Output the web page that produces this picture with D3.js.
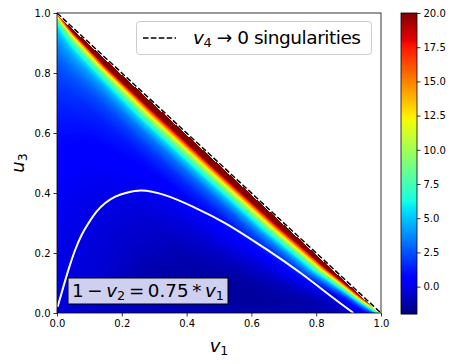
<!DOCTYPE html>
<html lang="en">
<head>
<meta charset="UTF-8">
<title>v4 singularities</title>
<script src="https://cdn.jsdelivr.net/npm/d3@7/dist/d3.min.js"></script>
<style>
    body { margin: 0; background: #fff; }
    svg text { font-family: "DejaVu Sans", sans-serif; fill: #000; }
    .tick text { font-size: 10px; }
    .tick line { stroke: #000; stroke-width: 0.8; }
    .domain { stroke: none; }
</style>
</head>
<body>
<script>
    // picture size
    const width = 458;
    const height = 364;

    // colour range of the colorbar
    const zMin = -2, zMax = 20;
    const cbTicks = [0, 2.5, 5, 7.5, 10, 12.5, 15, 17.5, 20];
    const axisTicks = [0, 0.2, 0.4, 0.6, 0.8, 1.0];

    // field: one row per position along the diagonal
    // s = v1 / (v1 + u3), columns = distance v4 = 1 - v1 - u3
    const sRows = [0, 0.05, 0.15, 0.3, 0.5, 0.7, 0.85, 0.95, 1];
    const v4Cols = [0, 0.01, 0.02, 0.03, 0.045, 0.06, 0.08, 0.1, 0.13, 0.17, 0.22, 0.3, 0.4, 0.55, 0.75, 1.0];
    const rowS000 = [20, 12, 9, 7, 5.5, 4.8, 4.2, 3.7, 3.2, 2.6, 2.1, 1.5, 1.0, 0.5, 0.1, -0.1];
    const rowS005 = [30, 24, 17, 12, 8.5, 6.5, 5, 4.2, 3.3, 2.5, 1.9, 1.3, 0.8, 0.3, 0, -0.1];
    const rowS015 = [30, 27, 23, 18.5, 12.5, 8.8, 6, 4.4, 3.2, 2.2, 1.5, 0.9, 0.4, 0.1, -0.1, -0.2];
    const rowS030 = [30, 28, 24, 20, 15, 11, 7.5, 5.2, 3.3, 2.0, 1.1, 0.5, 0.1, -0.2, -0.2, -0.2];
    const rowS050 = [30, 28, 24, 20, 15, 11, 7.3, 5.0, 3.0, 1.6, 0.7, 0, -0.5, -0.6, -0.4, -0.2];
    const rowS070 = [30, 27, 23, 19, 14, 10, 6.5, 4.2, 2.3, 1.0, 0.2, -0.6, -1.1, -1.2, -0.9, -0.3];
    const rowS085 = [30, 25, 20, 15.5, 10.5, 7, 4.2, 2.5, 1.0, 0, -0.7, -1.3, -1.5, -1.3, -0.9, -0.3];
    const rowS095 = [25, 18, 12.5, 7.5, 3.5, 1.5, 0.3, -0.3, -0.8, -1.1, -1.3, -1.4, -1.4, -1.2, -0.8, -0.3];
    const rowS100 = [15, 8, 4, 2, 0.8, 0.2, -0.2, -0.5, -0.8, -1.0, -1.1, -1.1, -1.0, -0.8, -0.5, -0.3];
    const field = [rowS000, rowS005, rowS015, rowS030, rowS050, rowS070, rowS085, rowS095, rowS100];

    // white curve 1 - v2 = 0.75 * v1
    const curveV1 = [0.002, 0.014, 0.035, 0.056, 0.076, 0.097, 0.122, 0.148, 0.18, 0.215, 0.261, 0.333, 0.43, 0.52, 0.647, 0.75, 0.853, 0.915];
    const curveU3 = [0.021, 0.066, 0.143, 0.21, 0.26, 0.299, 0.338, 0.366, 0.388, 0.401, 0.408, 0.393, 0.349, 0.299, 0.212, 0.135, 0.05, 0.0];

    // plot area
    const plot = { left: 57, top: 13, right: 381, bottom: 313 };
    const cb = { left: 401, right: 417, top: 13, bottom: 314 };

    const x = d3.scaleLinear().domain([0, 1]).range([plot.left, plot.right]);
    const y = d3.scaleLinear().domain([0, 1]).range([plot.bottom, plot.top]);
    const cbY = d3.scaleLinear().domain([zMin, zMax]).range([cb.bottom, cb.top]);

    // matplotlib jet as piecewise linear channels
    const jetR = d3.scaleLinear().domain([0, 0.35, 0.66, 0.89, 1]).range([0, 0, 1, 1, 0.5]).clamp(true);
    const jetG = d3.scaleLinear().domain([0, 0.125, 0.375, 0.64, 0.91, 1]).range([0, 0, 1, 1, 0, 0]).clamp(true);
    const jetB = d3.scaleLinear().domain([0, 0.11, 0.34, 0.65, 1]).range([0.5, 1, 1, 0, 0]).clamp(true);
    const norm = d3.scaleLinear().domain([zMin, zMax]).range([0, 1]).clamp(true);
    function jet(v) {
        const t = norm(v);
        return [jetR(t) * 255, jetG(t) * 255, jetB(t) * 255];
    }

    // bilinear lookup in the table
    function locate(arr, v) {
        let i = d3.bisectRight(arr, v) - 1;
        i = Math.max(0, Math.min(arr.length - 2, i));
        const f = Math.max(0, Math.min(1, (v - arr[i]) / (arr[i + 1] - arr[i])));
        return [i, f];
    }
    function lookup(s, v4) {
        const [i, fi] = locate(sRows, s);
        const [j, fj] = locate(v4Cols, v4);
        const a = field[i][j] * (1 - fj) + field[i][j + 1] * fj;
        const b = field[i + 1][j] * (1 - fj) + field[i + 1][j + 1] * fj;
        return a * (1 - fi) + b * fi;
    }

    let svg = d3.select('body')
        .append('svg')
        .attr('width', width)
        .attr('height', height);

    // heat map image
    const pw = plot.right - plot.left;
    const ph = plot.bottom - plot.top;
    const canvas = document.createElement('canvas');
    canvas.width = pw;
    canvas.height = ph;
    const ctx = canvas.getContext('2d');
    const img = ctx.createImageData(pw, ph);
    for (let j = 0; j < ph; j++) {
        for (let i = 0; i < pw; i++) {
            const v1 = x.invert(plot.left + i + 0.5);
            const u3 = y.invert(plot.top + j + 0.5);
            const v4 = 1 - v1 - u3;
            const k = (j * pw + i) * 4;
            if (v4 < 0.006) {
                img.data[k + 3] = 0;
                continue;
            }
            const s = v1 / (v1 + u3);
            const c = jet(lookup(s, v4));
            img.data[k] = c[0];
            img.data[k + 1] = c[1];
            img.data[k + 2] = c[2];
            img.data[k + 3] = 255;
        }
    }
    ctx.putImageData(img, 0, 0);

    svg.append('image')
        .attr('x', plot.left)
        .attr('y', plot.top)
        .attr('width', pw)
        .attr('height', ph)
        .attr('href', canvas.toDataURL());

    // white curve
    const curvePts = curveV1.map((v, i) => [v, curveU3[i]]);
    svg.append('path')
        .datum(curvePts)
        .attr('fill', 'none')
        .attr('stroke', '#fff')
        .attr('stroke-width', 2)
        .attr('d', d3.line().x(d => x(d[0])).y(d => y(d[1])).curve(d3.curveCatmullRom.alpha(0.5)));

    // dashed v4 = 0 line
    svg.append('line')
        .attr('x1', x(0)).attr('y1', y(1))
        .attr('x2', x(1)).attr('y2', y(0))
        .attr('stroke', '#000')
        .attr('stroke-width', 1.5)
        .attr('stroke-dasharray', '5.5,2.4');

    // frame
    svg.append('rect')
        .attr('x', plot.left).attr('y', plot.top)
        .attr('width', pw).attr('height', ph)
        .attr('fill', 'none')
        .attr('stroke', '#000')
        .attr('stroke-width', 0.8);

    // axes
    svg.append('g')
        .attr('transform', 'translate(0,' + plot.bottom + ')')
        .call(d3.axisBottom(x).tickValues(axisTicks).tickFormat(d3.format('.1f')).tickSize(3.5).tickPadding(3));
    svg.append('g')
        .attr('transform', 'translate(' + plot.left + ',0)')
        .call(d3.axisLeft(y).tickValues(axisTicks).tickFormat(d3.format('.1f')).tickSize(3.5).tickPadding(3));

    // axis labels
    const xl = svg.append('text')
        .attr('x', x(0.5))
        .attr('y', 352)
        .attr('text-anchor', 'middle')
        .style('font-size', '18px');
    xl.append('tspan').style('font-style', 'italic').text('v');
    xl.append('tspan').attr('dy', 3).style('font-size', '12.5px').text('1');

    const yl = svg.append('text')
        .attr('transform', 'translate(24,' + y(0.5) + ') rotate(-90)')
        .attr('text-anchor', 'middle')
        .style('font-size', '18px');
    yl.append('tspan').style('font-style', 'italic').text('u');
    yl.append('tspan').attr('dy', 3).style('font-size', '12.5px').text('3');

    // legend
    svg.append('rect')
        .attr('x', 136.5).attr('y', 21.5)
        .attr('width', 235).attr('height', 33)
        .attr('rx', 3)
        .attr('fill', '#fff')
        .attr('fill-opacity', 0.8)
        .attr('stroke', '#ccc')
        .attr('stroke-width', 1);
    svg.append('line')
        .attr('x1', 143).attr('y1', 38)
        .attr('x2', 176).attr('y2', 38)
        .attr('stroke', '#000')
        .attr('stroke-width', 1.5)
        .attr('stroke-dasharray', '5.5,2.4');
    const lt = svg.append('text')
        .attr('x', 193)
        .attr('y', 44)
        .attr('textLength', 168)
        .attr('lengthAdjust', 'spacing')
        .style('font-size', '18.5px');
    lt.append('tspan').style('font-style', 'italic').text('v');
    lt.append('tspan').attr('dy', 3).style('font-size', '13px').text('4');
    lt.append('tspan').attr('dy', -3).text(' \u2192 0 singularities');

    // annotation box
    svg.append('rect')
        .attr('x', 68).attr('y', 278)
        .attr('width', 160).attr('height', 26)
        .attr('fill', '#cfcff0')
        .attr('stroke', '#000')
        .attr('stroke-width', 1);
    const at = svg.append('text')
        .attr('x', 72)
        .attr('y', 297)
        .attr('textLength', 152)
        .attr('lengthAdjust', 'spacingAndGlyphs')
        .style('font-size', '18.5px');
    at.append('tspan').text('1\u2009\u2212\u2009');
    at.append('tspan').style('font-style', 'italic').text('v');
    at.append('tspan').attr('dy', 3).style('font-size', '13px').text('2');
    at.append('tspan').attr('dy', -3).text('\u2009=\u20090.75\u2009*\u2009');
    at.append('tspan').style('font-style', 'italic').text('v');
    at.append('tspan').attr('dy', 3).style('font-size', '13px').text('1');

    // colorbar
    const cbSteps = d3.range(0, cb.bottom - cb.top);
    svg.append('g')
        .selectAll('rect')
        .data(cbSteps)
        .enter()
        .append('rect')
        .attr('x', cb.left)
        .attr('y', d => cb.top + d)
        .attr('width', cb.right - cb.left)
        .attr('height', 1.2)
        .attr('fill', d => {
            const c = jet(cbY.invert(cb.top + d + 0.5));
            return d3.rgb(c[0], c[1], c[2]);
        });
    svg.append('rect')
        .attr('x', cb.left).attr('y', cb.top)
        .attr('width', cb.right - cb.left).attr('height', cb.bottom - cb.top)
        .attr('fill', 'none')
        .attr('stroke', '#000')
        .attr('stroke-width', 0.8);
    svg.append('g')
        .attr('transform', 'translate(' + cb.right + ',0)')
        .call(d3.axisRight(cbY).tickValues(cbTicks).tickFormat(d3.format('.1f')).tickSize(3.5).tickPadding(3));
</script>
</body>
</html>
